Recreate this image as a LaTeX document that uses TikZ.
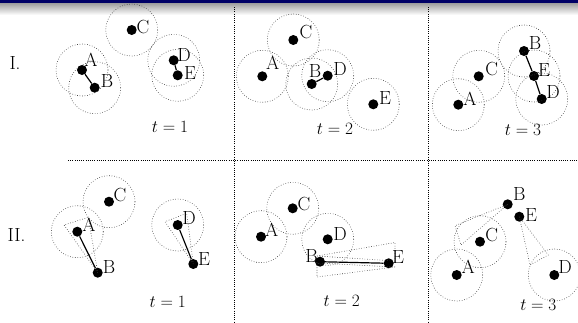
\documentclass[tikz,border=0pt]{standalone}
\tikzset{
  agent/.style={circle, fill=black, inner sep=0pt, minimum size=10pt},
  lbl/.style={inner sep=0.5pt},
  reach/.style={line width=0.6pt, dash pattern=on 0.6pt off 1.9pt, black!80},
  link/.style={line width=1.2pt},
  sepline/.style={line width=1pt, dash pattern=on 1pt off 1.2pt},
}
\begin{document}
\begin{tikzpicture}[x=1pt, y=-1pt, font=\fontsize{19}{22}\selectfont]
  \useasboundingbox (0,0) rectangle (578,322);
  % frame header
  \shade[top color=black!40, bottom color=white] (0,2.5) rectangle (578,15);
  \fill[blue!40!black] (0,0) rectangle (578,2.5);
  % panel separators
  \draw[sepline] (234,7) -- (234,322);
  \draw[sepline] (428,7) -- (428,322);
  \draw[sepline] (68,160.5) -- (578,160.5);
  \node (rowI) at (15,63.5) {I.};
  \node (rowII) at (16.5,235.5) {II.};

  % I, t=1
  \node[agent] (A1) at (82,70) {};
  \node[agent] (B1) at (94.7,87.7) {};
  \node[agent] (C1) at (131.7,30) {};
  \node[agent] (D1) at (173.7,60.3) {};
  \node[agent] (E1) at (177.7,75.3) {};
  \foreach \n in {A1,B1,C1,D1,E1} \draw[reach] (\n.center) circle (26);
  \draw[link] (A1) -- (B1);
  \draw[link] (D1) -- (E1);
  \node[lbl] (A1t) at (91,60) {A};
  \node[lbl] (B1t) at (107,81) {B};
  \node[lbl] (C1t) at (143,27) {C};
  \node[lbl] (D1t) at (184,55) {D};
  \node[lbl] (E1t) at (190,73) {E};
  \node (T1) at (170,127) {$t=1$};

  % I, t=2
  \node[agent] (A2) at (262.3,76.3) {};
  \node[agent] (B2) at (311.7,84) {};
  \node[agent] (C2) at (293.3,40) {};
  \node[agent] (D2) at (327.7,75.7) {};
  \node[agent] (E2) at (373.3,104.3) {};
  \foreach \n in {A2,B2,C2,D2,E2} \draw[reach] (\n.center) circle (26);
  \draw[link] (B2) -- (D2);
  \node[lbl] (A2t) at (272.7,62.7) {A};
  \node[lbl] (B2t) at (315,71) {B};
  \node[lbl] (C2t) at (306,32) {C};
  \node[lbl] (D2t) at (340,69) {D};
  \node[lbl] (E2t) at (385,98) {E};
  \node (T2) at (335,129) {$t=2$};

  % I, t=3
  \node[agent] (A3) at (458.3,104.7) {};
  \node[agent] (B3) at (524,51) {};
  \node[agent] (C3) at (478.7,76.3) {};
  \node[agent] (D3) at (541.7,99) {};
  \node[agent] (E3) at (534,76) {};
  \foreach \n in {A3,B3,C3,D3,E3} \draw[reach] (\n.center) circle (26);
  \draw[link] (B3) -- (E3) -- (D3);
  \node[lbl] (A3t) at (470,99) {A};
  \node[lbl] (B3t) at (535,43) {B};
  \node[lbl] (C3t) at (491.7,69) {C};
  \node[lbl] (D3t) at (553,92) {D};
  \node[lbl] (E3t) at (544,70) {E};
  \node (T3) at (523,130) {$t=3$};

  % II, t=1
  \node[agent] (A4) at (77.3,231.7) {};
  \node[agent] (B4) at (97.7,272.7) {};
  \node[agent] (C4) at (109,201.7) {};
  \node[agent] (D4) at (177.7,225) {};
  \node[agent] (E4) at (193.3,264) {};
  \foreach \n in {A4,C4,D4} \draw[reach] (\n.center) circle (26);
  \draw[reach] (B4.center) -- (64,225) -- (88.3,217.3) -- cycle;
  \draw[reach] (E4.center) -- (165,221.7) -- (186.7,213.3) -- cycle;
  \draw[link] (A4) -- (B4);
  \draw[link] (D4) -- (E4);
  \node[lbl] (A4t) at (89,225) {A};
  \node[lbl] (B4t) at (109,266.7) {B};
  \node[lbl] (C4t) at (120,195) {C};
  \node[lbl] (D4t) at (189,217.7) {D};
  \node[lbl] (E4t) at (204,259) {E};
  \node (T4) at (167.7,301.7) {$t=1$};

  % II, t=2
  \node[agent] (A5) at (261,236.7) {};
  \node[agent] (B5) at (320,261.7) {};
  \node[agent] (C5) at (292.7,208.3) {};
  \node[agent] (D5) at (327.7,239.3) {};
  \node[agent] (E5) at (388.7,263.3) {};
  \foreach \n in {A5,C5,D5} \draw[reach] (\n.center) circle (26);
  \draw[reach] (317,256) -- (395,242.5) -- (395,261) -- cycle;
  \draw[reach] (395,267) -- (317,263) -- (317,277) -- cycle;
  \draw[link] (B5) -- (E5);
  \node[lbl] (A5t) at (271.7,230) {A};
  \node[lbl] (B5t) at (311.7,256) {B};
  \node[lbl] (C5t) at (304,204.3) {C};
  \node[lbl] (D5t) at (340,234) {D};
  \node[lbl] (E5t) at (398,257.3) {E};
  \node (T5) at (341.7,300.7) {$t=2$};

  % II, t=3
  \node[agent] (A6) at (456.7,275) {};
  \node[agent] (B6) at (507.7,204.3) {};
  \node[agent] (C6) at (480,241.7) {};
  \node[agent] (D6) at (554.3,275) {};
  \node[agent] (E6) at (519.3,216.7) {};
  \foreach \n in {A6,C6,D6} \draw[reach] (\n.center) circle (26);
  \draw[reach] (B6.center) -- (455,225.7) -- (461,245) -- cycle;
  \draw[reach] (E6.center) -- (530,265) -- (548.3,255) -- cycle;
  \node[lbl] (A6t) at (468.3,266.7) {A};
  \node[lbl] (B6t) at (519.3,194.3) {B};
  \node[lbl] (C6t) at (491.7,235) {C};
  \node[lbl] (D6t) at (565,266.7) {D};
  \node[lbl] (E6t) at (531,215) {E};
  \node (T6) at (538.3,305) {$t=3$};
\end{tikzpicture}
\end{document}
